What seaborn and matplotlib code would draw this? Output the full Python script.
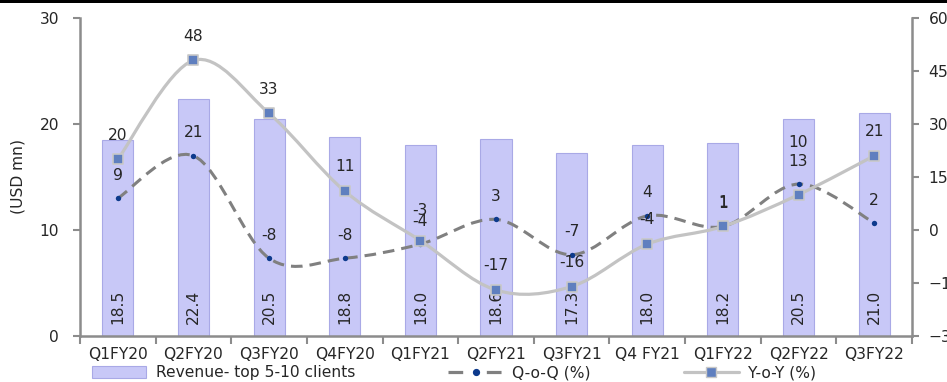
import numpy as np
import pandas as pd
import matplotlib
matplotlib.use("Agg")
import matplotlib.pyplot as plt
import seaborn as sns
from matplotlib.path import Path
from matplotlib.patches import PathPatch, Patch, Rectangle
from matplotlib.lines import Line2D

# ---- data ----
quarters = ["Q1FY20", "Q2FY20", "Q3FY20", "Q4FY20", "Q1FY21", "Q2FY21",
            "Q3FY21", "Q4 FY21", "Q1FY22", "Q2FY22", "Q3FY22"]
revenue = [18.5, 22.4, 20.5, 18.8, 18.0, 18.6, 17.3, 18.0, 18.2, 20.5, 21.0]
qoq = [9, 21, -8, -8, -4, 3, -7, 4, 1, 13, 2]
yoy = [20, 48, 33, 11, -3, -17, -16, -4, 1, 10, 21]
left_ticks = [0, 10, 20, 30]
right_ticks = [-30, -15, 0, 15, 30, 45, 60]

sns.set_style("white")
plt.rcParams["font.family"] = ["DejaVu Sans"]
FS = 11.2
TXT = "#262626"
SPINE = "#8c8c8c"
BAR = "#c8c8f7"
BAR_EDGE = "#a9a9e6"
YOY_LINE = "#c3c3c3"
QOQ_LINE = "#808080"
SQ = "#5f7fbf"
DOT = "#0d3a8c"

fig = plt.figure(figsize=(9.47, 3.82), dpi=100)
ax = fig.add_axes([80 / 947, 1 - 336 / 382, (912 - 80) / 947, (336 - 18) / 382])

df = pd.DataFrame({"quarter": quarters, "revenue": revenue})
sns.barplot(data=df, x="quarter", y="revenue", ax=ax, color=BAR, saturation=1,
            width=0.41, edgecolor=BAR_EDGE, linewidth=0.8)
ax.set_xlim(-0.5, len(quarters) - 0.5)
ax.set_ylim(0, 30)
ax.set_yticks(left_ticks)
ax.set_xlabel("")
ax.set_ylabel("(USD mn)", fontsize=FS, color=TXT)
ax.yaxis.set_label_coords(-0.066, 0.5)
ax.tick_params(axis="y", length=5, width=1.5, color=SPINE, pad=10,
               labelsize=FS, labelcolor=TXT, direction="out", left=True)
ax.tick_params(axis="x", which="major", length=0, pad=8, labelsize=FS, labelcolor=TXT)
ax.set_xticks(np.arange(-0.5, len(quarters), 1.0), minor=True)
ax.tick_params(axis="x", which="minor", length=6, width=1.5, color=SPINE,
               direction="out", bottom=True)
for s in ["top", "right"]:
    ax.spines[s].set_visible(False)
for s in ["left", "bottom"]:
    ax.spines[s].set_color(SPINE)
    ax.spines[s].set_linewidth(1.8)

# bar value labels (rotated)
for i, v in enumerate(revenue):
    ax.annotate(f"{v:.1f}", xy=(i, 0), xytext=(0, 9), textcoords="offset points",
                rotation=90, ha="center", va="bottom", fontsize=FS, color=TXT)

# ---- secondary axis ----
ax2 = ax.twinx()
ax2.set_ylim(-30, 60)
ax2.set_yticks(right_ticks)
ax2.tick_params(axis="y", length=5, width=1.5, color=SPINE, pad=7,
                labelsize=FS, labelcolor=TXT, direction="out", right=True)
for s in ["top", "left", "bottom"]:
    ax2.spines[s].set_visible(False)
ax2.spines["right"].set_color(SPINE)
ax2.spines["right"].set_linewidth(1.8)

xs = np.arange(len(quarters), dtype=float)


def smooth_path(x, y):
    pts = np.column_stack([x, y]).astype(float)
    n = len(pts)
    verts = [pts[0]]
    codes = [Path.MOVETO]
    for i in range(n - 1):
        p0 = pts[i - 1] if i > 0 else pts[i]
        p1 = pts[i]
        p2 = pts[i + 1]
        p3 = pts[i + 2] if i + 2 < n else pts[i + 1]
        c1 = p1 + (p2 - p0) / 6.0
        c2 = p2 - (p3 - p1) / 6.0
        verts += [c1, c2, p2]
        codes += [Path.CURVE4] * 3
    return Path(verts, codes)


qoq_patch = PathPatch(smooth_path(xs, qoq), facecolor="none", edgecolor=QOQ_LINE,
                      linewidth=2.2, linestyle=(0, (3.8, 2.3)), capstyle="butt", zorder=3)
ax2.add_patch(qoq_patch)
yoy_patch = PathPatch(smooth_path(xs, yoy), facecolor="none", edgecolor=YOY_LINE,
                      linewidth=2.3, zorder=4)
ax2.add_patch(yoy_patch)

sns.scatterplot(x=xs, y=qoq, ax=ax2, marker="o", s=15, color=DOT,
                edgecolor=DOT, linewidth=0, zorder=5, legend=False)
sns.scatterplot(x=xs, y=yoy, ax=ax2, marker="s", s=58, color=SQ,
                edgecolor="#c8c8c8", linewidth=1.2, zorder=6, legend=False)

# label placement (a few Y-o-Y labels sit higher in the source chart)
yoy_extra = {4: 4, 9: 20}
for i, v in enumerate(qoq):
    ax2.annotate(f"{v}", xy=(i, v), xytext=(0, 16.5), textcoords="offset points",
                 ha="center", va="center", fontsize=FS, color=TXT, zorder=7)
for i, v in enumerate(yoy):
    ax2.annotate(f"{v}", xy=(i, v), xytext=(0, 17.5 + yoy_extra.get(i, 0)),
                 textcoords="offset points",
                 ha="center", va="center", fontsize=FS, color=TXT, zorder=7)

# ---- legend ----
handles = [
    Patch(facecolor=BAR, edgecolor=BAR_EDGE, linewidth=0.8),
    Line2D([], [], color=QOQ_LINE, linewidth=2.3, linestyle=(0, (4.6, 7.4)),
           marker="o", markersize=4.2, markerfacecolor=DOT, markeredgecolor=DOT),
    Line2D([], [], color=YOY_LINE, linewidth=2.3, marker="s", markersize=7.5,
           markerfacecolor=SQ, markeredgecolor="#c8c8c8"),
]
labels = ["Revenue- top 5-10 clients", "Q-o-Q (%)", "Y-o-Y (%)"]
fig.legend(handles, labels, loc="center left", bbox_to_anchor=(92 / 947, 1 - 373 / 382),
           ncol=3, frameon=False, fontsize=FS, handlelength=3.5, handleheight=0.8,
           handletextpad=0.6, columnspacing=6.0, borderpad=0, borderaxespad=0,
           labelcolor=TXT)

# top black rule
fig.add_artist(Rectangle((0, 1 - 3 / 382), 1, 3 / 382, transform=fig.transFigure,
                         facecolor="black", edgecolor="none"))

fig.savefig("out.png", dpi=100)
